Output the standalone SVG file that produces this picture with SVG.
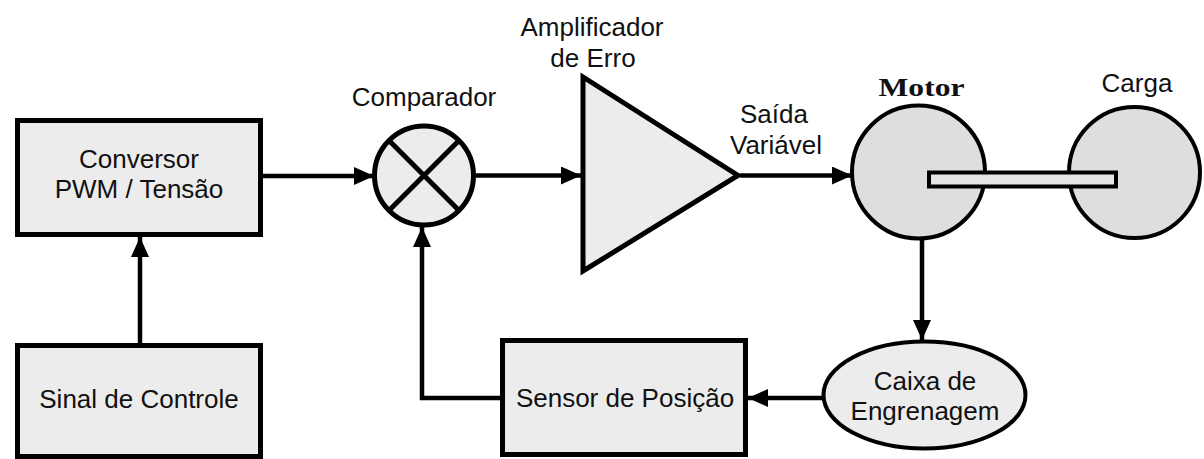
<svg xmlns="http://www.w3.org/2000/svg" width="1204" height="459" viewBox="0 0 1204 459">
<style>
.box{fill:#ececec;stroke:#000;stroke-width:5}
.disk{fill:#dedede;stroke:#000;stroke-width:4}
.t{font-family:"Liberation Sans",Arial,sans-serif;font-size:26px;fill:#111;text-anchor:middle}
.ts{font-family:"Liberation Serif","Times New Roman",serif;font-size:25px;font-weight:bold;fill:#111;text-anchor:middle}
.c{fill:none;stroke:#000;stroke-width:4.5}
</style>
<defs>
<marker id="ah" markerUnits="userSpaceOnUse" markerWidth="20" markerHeight="18" refX="20" refY="9" orient="auto">
<path d="M0,0 L20,9 L0,18 Z" fill="#000"/>
</marker>
</defs>
<rect width="1204" height="459" fill="#fff"/>
<g id="conversor">
<rect class="box" x="17.5" y="120.5" width="243" height="114"/>
<text class="t" x="139" y="168">Conversor</text>
<text class="t" x="139" y="198">PWM / Tensão</text>
</g>
<g id="sinal">
<rect class="box" x="17.5" y="345.5" width="243" height="111"/>
<text class="t" x="139" y="408">Sinal de Controle</text>
</g>
<g id="comparador">
<circle class="box" cx="424" cy="175.5" r="49.5"/>
<line x1="389" y1="140.5" x2="459" y2="210.5" stroke="#000" stroke-width="5"/>
<line x1="459" y1="140.5" x2="389" y2="210.5" stroke="#000" stroke-width="5"/>
<text class="t" x="424" y="106">Comparador</text>
</g>
<g id="amplificador">
<polygon class="box" points="583,77 583,271 738,175.5" stroke-linejoin="miter"/>
<text class="t" x="592" y="36">Amplificador</text>
<text class="t" x="593" y="67">de Erro</text>
</g>
<g id="saida">
<text class="t" x="774" y="123">Saída</text>
<text class="t" x="776" y="154">Variável</text>
</g>
<g id="carga">
<circle class="disk" cx="1134.5" cy="172.5" r="65.5"/>
<text class="t" x="1137" y="92">Carga</text>
</g>
<g id="motor">
<circle class="disk" cx="918.5" cy="172" r="66.5"/>
<text class="ts" x="921.5" y="96" textLength="86" lengthAdjust="spacingAndGlyphs">Motor</text>
</g>
<g id="eixo">
<rect x="929" y="172.5" width="187" height="14" fill="#e6e6e6" stroke="#000" stroke-width="4"/>
</g>
<g id="caixa">
<ellipse class="box" cx="924.5" cy="395" rx="101" ry="53.5" style="stroke-width:4"/>
<text class="t" x="925" y="390">Caixa de</text>
<text class="t" x="925" y="420">Engrenagem</text>
</g>
<g id="sensor">
<rect class="box" x="502.5" y="340.5" width="243" height="114"/>
<text class="t" x="625" y="407">Sensor de Posição</text>
</g>
<g id="connectors">
<line class="c" x1="140" y1="343" x2="140" y2="237" marker-end="url(#ah)"/>
<line class="c" x1="263" y1="176" x2="374" y2="176" marker-end="url(#ah)"/>
<line class="c" x1="476" y1="175.5" x2="581" y2="175.5" marker-end="url(#ah)"/>
<line class="c" x1="740" y1="175.5" x2="852" y2="175.5" marker-end="url(#ah)"/>
<line class="c" x1="922" y1="239" x2="922" y2="340" marker-end="url(#ah)"/>
<line class="c" x1="823" y1="398" x2="748" y2="398" marker-end="url(#ah)"/>
<polyline class="c" points="500,398 422,398 422,227" marker-end="url(#ah)"/>
</g>
</svg>
